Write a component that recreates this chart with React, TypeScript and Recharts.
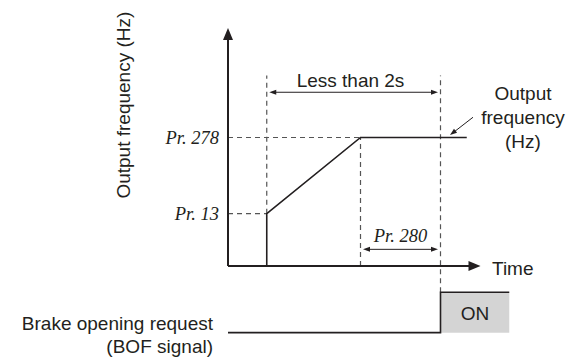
import {
  ComposedChart,
  Line,
  XAxis,
  YAxis,
  ReferenceLine,
  ReferenceArea,
  ReferenceDot,
} from "recharts";

// points on the time axis
const tStart = 1.55;
const tRampEnd = 5.3;
const tBrake = 8.5;
const tFlatEnd = 9.55;
const tSignalEnd = 11.25;
const tAxisEnd = 10.1;

// frequency levels
const fPr13 = 22;
const fPr278 = 54;
const fTop = 100;
const fGuideTop = 80;

// output frequency trace
const freqTimes = [tStart, tStart, tRampEnd, tFlatEnd];
const freqValues = [0, fPr13, fPr278, fPr278];

// BOF signal trace (drawn below the time axis)
const bofLow = -28;
const bofHigh = -11;
const bofTimes = [0, tBrake, tBrake, tSignalEnd];
const bofValues = [bofLow, bofLow, bofHigh, bofHigh];

const levelTicks = [fPr13, fPr278];
const levelLabels = ["Pr. 13", "Pr. 278"];

const freqData = freqTimes.map((t, i) => ({ t, v: freqValues[i] }));
const bofData = bofTimes.map((t, i) => ({ t, v: bofValues[i] }));

const INK = "#231f20";
const SANS = "'Liberation Sans', Arial, sans-serif";
const SERIF = "'Liberation Serif', 'Times New Roman', serif";

type ArrowOpts = {
  start?: boolean;
  end?: boolean;
  len: number;
  half: number;
  width: number;
};

function arrow({ start, end, len, half, width }: ArrowOpts) {
  return (p: any) => {
    const { x1, y1, x2, y2 } = p;
    const d = Math.hypot(x2 - x1, y2 - y1) || 1;
    const ux = (x2 - x1) / d;
    const uy = (y2 - y1) / d;
    const head = (tx: number, ty: number, sx: number, sy: number) => {
      const bx = tx - sx * len;
      const by = ty - sy * len;
      return `${tx},${ty} ${bx - sy * half},${by + sx * half} ${bx + sy * half},${by - sx * half}`;
    };
    const lx1 = start ? x1 + ux * len * 0.7 : x1;
    const ly1 = start ? y1 + uy * len * 0.7 : y1;
    const lx2 = end ? x2 - ux * len * 0.7 : x2;
    const ly2 = end ? y2 - uy * len * 0.7 : y2;
    return (
      <g>
        <line x1={lx1} y1={ly1} x2={lx2} y2={ly2} stroke={INK} strokeWidth={width} />
        {end && <polygon points={head(x2, y2, ux, uy)} fill={INK} />}
        {start && <polygon points={head(x1, y1, -ux, -uy)} fill={INK} />}
      </g>
    );
  };
}

function note(
  lines: string[],
  opts: { anchor?: "start" | "middle" | "end"; size?: number; step?: number; rotate?: number; italic?: boolean }
) {
  const { anchor = "middle", size = 19, step = 24, rotate = 0, italic = false } = opts;
  return (p: any) => {
    const off = -((lines.length - 1) * step) / 2;
    return (
      <text
        x={p.cx}
        y={p.cy}
        textAnchor={anchor}
        dominantBaseline="central"
        fontFamily={italic ? SERIF : SANS}
        fontStyle={italic ? "italic" : "normal"}
        fontSize={size}
        fill={INK}
        transform={rotate ? `rotate(${rotate}, ${p.cx}, ${p.cy})` : undefined}
      >
        {lines.map((s, i) => (
          <tspan key={i} x={p.cx} dy={i === 0 ? off : step}>
            {s}
          </tspan>
        ))}
      </text>
    );
  };
}

const dashed = { stroke: "#555", strokeWidth: 1.2, strokeDasharray: "5 4", ifOverflow: "visible" as const };

export default function App() {
  return (
    <div style={{ position: "absolute", left: 0, top: 0, background: "#fff" }}>
      <ComposedChart
        width={581}
        height={360}
        margin={{ top: 28, right: 53, bottom: 22.6, left: 168 }}
      >
        <XAxis dataKey="t" type="number" domain={[0, 12]} allowDataOverflow hide />
        <YAxis
          type="number"
          domain={[-30, fTop]}
          allowDataOverflow
          width={60}
          ticks={levelTicks}
          tickFormatter={(v: number) => levelLabels[levelTicks.indexOf(v)] ?? ""}
          axisLine={false}
          tickLine={false}
          tickMargin={3}
          tick={{ fontFamily: SERIF, fontStyle: "italic", fontSize: 18.5, fill: INK }}
        />

        <ReferenceArea
          x1={tBrake}
          x2={tSignalEnd}
          y1={bofLow}
          y2={bofHigh}
          fill="#d4d4d4"
          fillOpacity={1}
          stroke="none"
          ifOverflow="visible"
        />

        {/* dashed guides */}
        <ReferenceLine segment={[{ x: 0, y: fPr13 }, { x: tStart, y: fPr13 }]} {...dashed} />
        <ReferenceLine segment={[{ x: 0, y: fPr278 }, { x: tRampEnd, y: fPr278 }]} {...dashed} />
        <ReferenceLine segment={[{ x: tStart, y: fPr13 }, { x: tStart, y: fGuideTop }]} {...dashed} />
        <ReferenceLine segment={[{ x: tRampEnd, y: 0 }, { x: tRampEnd, y: fPr278 }]} {...dashed} />
        <ReferenceLine segment={[{ x: tBrake, y: bofHigh }, { x: tBrake, y: fGuideTop }]} {...dashed} />

        {/* axes */}
        <ReferenceLine
          segment={[{ x: 0, y: 0 }, { x: 0, y: fTop }]}
          ifOverflow="visible"
          shape={arrow({ end: true, len: 12, half: 5, width: 2 })}
        />
        <ReferenceLine
          segment={[{ x: 0, y: 0 }, { x: tAxisEnd, y: 0 }]}
          ifOverflow="visible"
          shape={arrow({ end: true, len: 12, half: 5, width: 2 })}
        />

        {/* dimension arrows */}
        <ReferenceLine
          segment={[{ x: tStart + 0.1, y: 73 }, { x: tBrake - 0.1, y: 73 }]}
          ifOverflow="visible"
          shape={arrow({ start: true, end: true, len: 7, half: 2.5, width: 1 })}
        />
        <ReferenceLine
          segment={[{ x: tRampEnd + 0.1, y: 7 }, { x: tBrake - 0.1, y: 7 }]}
          ifOverflow="visible"
          shape={arrow({ start: true, end: true, len: 7, half: 2.5, width: 1 })}
        />
        <ReferenceLine
          segment={[{ x: 9.8, y: 62.5 }, { x: 8.88, y: 55 }]}
          ifOverflow="visible"
          shape={arrow({ end: true, len: 7, half: 2.5, width: 1 })}
        />

        <Line
          data={freqData}
          dataKey="v"
          type="linear"
          stroke={INK}
          strokeWidth={1.6}
          dot={false}
          activeDot={false}
          isAnimationActive={false}
        />
        <Line
          data={bofData}
          dataKey="v"
          type="linear"
          stroke={INK}
          strokeWidth={1.6}
          dot={false}
          activeDot={false}
          isAnimationActive={false}
        />

        {/* text */}
        <ReferenceDot x={-4.2} y={67.6} ifOverflow="visible" shape={note(["Output frequency (Hz)"], { rotate: -90 })} />
        <ReferenceDot x={4.9} y={78} ifOverflow="visible" shape={note(["Less than 2s"], {})} />
        <ReferenceDot x={11.8} y={62.6} ifOverflow="visible" shape={note(["Output", "frequency", "(Hz)"], {})} />
        <ReferenceDot x={6.9} y={12.5} ifOverflow="visible" shape={note(["Pr. 280"], { italic: true, size: 18.5 })} />
        <ReferenceDot x={10.56} y={-0.8} ifOverflow="visible" shape={note(["Time"], { anchor: "start" })} />
        <ReferenceDot x={9.88} y={-19.7} ifOverflow="visible" shape={note(["ON"], {})} />
        <ReferenceDot
          x={-0.6}
          y={-28.8}
          ifOverflow="visible"
          shape={note(["Brake opening request", "(BOF signal)"], { anchor: "end", step: 23 })}
        />
      </ComposedChart>
    </div>
  );
}
